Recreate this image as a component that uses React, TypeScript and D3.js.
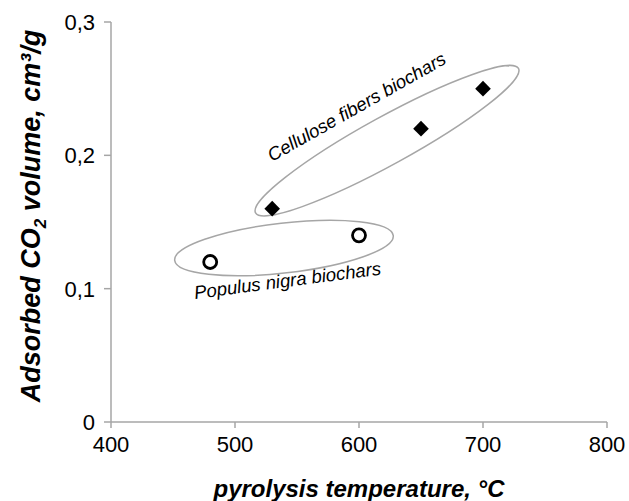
import React from "react";
import * as d3 from "d3";

const circleTemps = [480, 600];
const circleVals = [0.12, 0.14];
const diamondTemps = [530, 650, 700];
const diamondVals = [0.16, 0.22, 0.25];
const xTicks = [400, 500, 600, 700, 800];
const yTicks = [0, 0.1, 0.2, 0.3];
const yTickLabels = ["0", "0,1", "0,2", "0,3"];

const W = 629;
const H = 501;
const FONT = "'Liberation Sans', Arial, sans-serif";

export default function App() {
  const x = d3.scaleLinear().domain([400, 800]).range([111, 607]);
  const y = d3.scaleLinear().domain([0, 0.3]).range([422, 22]);
  const diamond = d3.symbol().type(d3.symbolDiamond2).size(155)();

  // annotation ellipses (centres in data units)
  const cellCx = x(622.6), cellCy = y(0.211);
  const popCx = x(539.5), popCy = y(0.1305);

  return (
    <div style={{ position: "absolute", left: 0, top: 0 }}>
      <svg width={W} height={H} style={{ display: "block", background: "#fff" }} fontFamily={FONT}>
        {/* axes */}
        <line x1={x(400)} x2={x(800)} y1={y(0)} y2={y(0)} stroke="#a6a6a6" strokeWidth={1.5} />
        <line x1={x(400)} x2={x(400)} y1={y(0)} y2={y(0.3)} stroke="#a6a6a6" strokeWidth={1.5} />
        {xTicks.map((t) => (
          <g key={"xt" + t}>
            <line x1={x(t)} x2={x(t)} y1={y(0)} y2={y(0) + 6} stroke="#a6a6a6" strokeWidth={1.5} />
            <text x={x(t)} y={452} textAnchor="middle" fontSize={22} fill="#000">{t}</text>
          </g>
        ))}
        {yTicks.map((t, i) => (
          <g key={"yt" + t}>
            <line x1={x(400) - 7} x2={x(400)} y1={y(t)} y2={y(t)} stroke="#a6a6a6" strokeWidth={1.5} />
            <text x={95} y={y(t) + 8} textAnchor="end" fontSize={22} fill="#000">{yTickLabels[i]}</text>
          </g>
        ))}
        {/* axis titles */}
        <text x={359} y={497} textAnchor="middle" fontSize={24} fontWeight="bold" fontStyle="italic">
          pyrolysis temperature, °C
        </text>
        <text transform={`translate(40,${216}) rotate(-90)`} textAnchor="middle" fontSize={27} fontWeight="bold" fontStyle="italic">
          Adsorbed CO<tspan fontSize={17} dy={6}>2</tspan><tspan dy={-6}> volume, cm³/g</tspan>
        </text>
        {/* ellipses */}
        <ellipse cx={0} cy={0} rx={150} ry={24} fill="none" stroke="#a6a6a6" strokeWidth={1.5}
          transform={`translate(${cellCx},${cellCy}) rotate(-28.8)`} />
        <ellipse cx={0} cy={0} rx={110} ry={25} fill="none" stroke="#a6a6a6" strokeWidth={1.5}
          transform={`translate(${popCx},${popCy}) rotate(-6.5)`} />
        {/* annotation text */}
        <text transform="translate(272,162) rotate(-29.5)" fontSize={18.5} fontStyle="italic">Cellulose fibers biochars</text>
        <text transform="translate(195,299) rotate(-7.5)" fontSize={18.5} fontStyle="italic">Populus nigra biochars</text>
        {/* marks */}
        {circleTemps.map((t, i) => (
          <circle key={"c" + i} cx={x(t)} cy={y(circleVals[i])} r={6.5} fill="#fff" stroke="#000" strokeWidth={2.8} />
        ))}
        {diamondTemps.map((t, i) => (
          <path key={"d" + i} d={diamond as string} transform={`translate(${x(t)},${y(diamondVals[i])})`} fill="#000" />
        ))}
      </svg>
    </div>
  );
}
